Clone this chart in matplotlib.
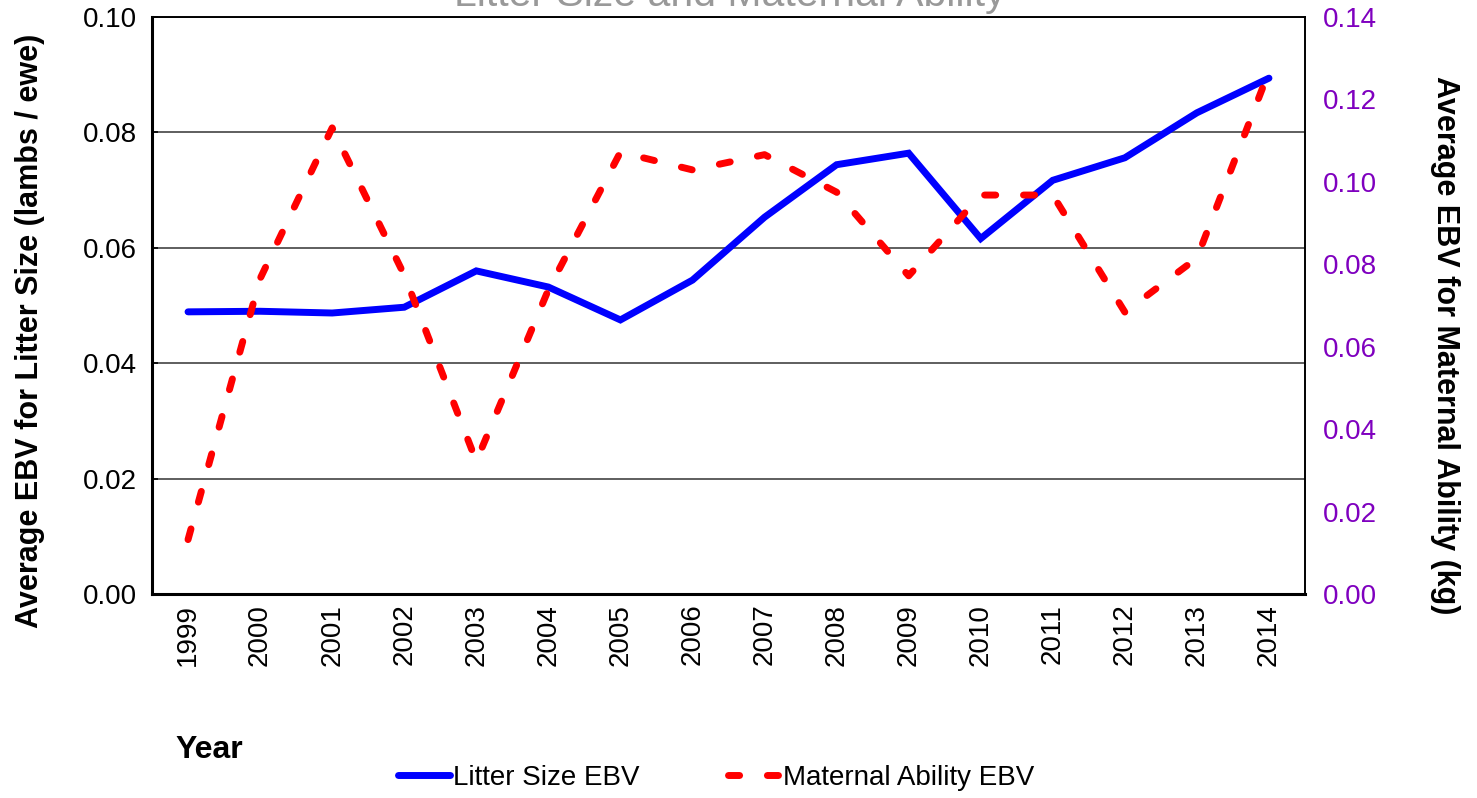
import matplotlib.pyplot as plt
import numpy as np

plt.rcParams['font.family'] = ['Liberation Sans', 'DejaVu Sans']

years = ['1999', '2000', '2001', '2002', '2003', '2004', '2005', '2006',
         '2007', '2008', '2009', '2010', '2011', '2012', '2013', '2014']
litter_size = [0.0489, 0.0490, 0.0487, 0.0497, 0.0560, 0.0532, 0.0475, 0.0544,
               0.0653, 0.0744, 0.0764, 0.0616, 0.0717, 0.0756, 0.0834, 0.0894]
maternal = [0.0132, 0.0765, 0.1131, 0.0774, 0.0322, 0.0738, 0.1072, 0.1029,
            0.1066, 0.0975, 0.0772, 0.0968, 0.0968, 0.0684, 0.0815, 0.1268]

purple = '#7f00bf'
x = np.arange(len(years))

fig = plt.figure(figsize=(14.77, 7.98), dpi=100)
ax = fig.add_axes([152 / 1477, 1 - 594 / 798, (1305 - 152) / 1477, (594 - 17) / 798])
ax2 = ax.twinx()

l1, = ax.plot(x, litter_size, color='#0000ff', linewidth=5, solid_capstyle='round',
              solid_joinstyle='miter', label='Litter Size EBV', zorder=3)
l2, = ax2.plot(x, maternal, color='#ff0000', linewidth=5, dashes=(1.6, 4.0),
               dash_capstyle='round', label='Maternal Ability EBV', zorder=3)

ax.set_xlim(-0.5, len(years) - 0.5)
ax.set_ylim(0, 0.10)
ax2.set_ylim(0, 0.14)
ax.set_yticks(np.arange(0, 0.101, 0.02))
ax2.set_yticks(np.arange(0, 0.141, 0.02))
ax.yaxis.set_major_formatter(plt.FuncFormatter(lambda v, _: f'{v:.2f}'))
ax2.yaxis.set_major_formatter(plt.FuncFormatter(lambda v, _: f'{v:.2f}'))
ax.set_xticks(x)
ax.set_xticklabels(years, rotation=90, fontsize=20)

ax.grid(axis='y', color='#333333', linewidth=1.1)
ax.set_axisbelow(True)
ax.tick_params(axis='y', direction='in', length=4, width=1.2, labelsize=20, pad=11)
ax.tick_params(axis='x', length=0, pad=7)
ax2.tick_params(axis='y', length=0, labelsize=20, labelcolor=purple, pad=13)

for s in ['left', 'bottom']:
    ax.spines[s].set_linewidth(2.2)
for s in ['top', 'right']:
    ax.spines[s].set_linewidth(1.2)
ax2.spines['right'].set_linewidth(1.2)
ax2.spines['top'].set_linewidth(1.2)

ax.set_ylabel('Average EBV for Litter Size (lambs / ewe)', fontsize=22,
              fontweight='bold', va='center')
ax2.set_ylabel('Average EBV for Maternal Ability (kg)', fontsize=22,
               fontweight='bold', rotation=270, va='center')
ax.yaxis.set_label_coords((30 - 152) / 1153, (594 - 331) / 577)
ax2.yaxis.set_label_coords((1445 - 152) / 1153, (594 - 345) / 577)

fig.text(175 / 1477, 1 - 750 / 798, 'Year', fontsize=23, fontweight='bold',
         ha='left', va='center')
fig.text(730 / 1477, 1 - 6 / 798, 'Litter Size and Maternal Ability', fontsize=29.5,
         color='#999999', ha='center', va='baseline')

fig.legend(handles=[l1, l2], loc='center', bbox_to_anchor=(716 / 1477, 1 - 778 / 798),
           ncol=2, frameon=False, fontsize=20, handlelength=1.87, handletextpad=0.1,
           columnspacing=3.2)

fig.savefig('out.png', dpi=100)
